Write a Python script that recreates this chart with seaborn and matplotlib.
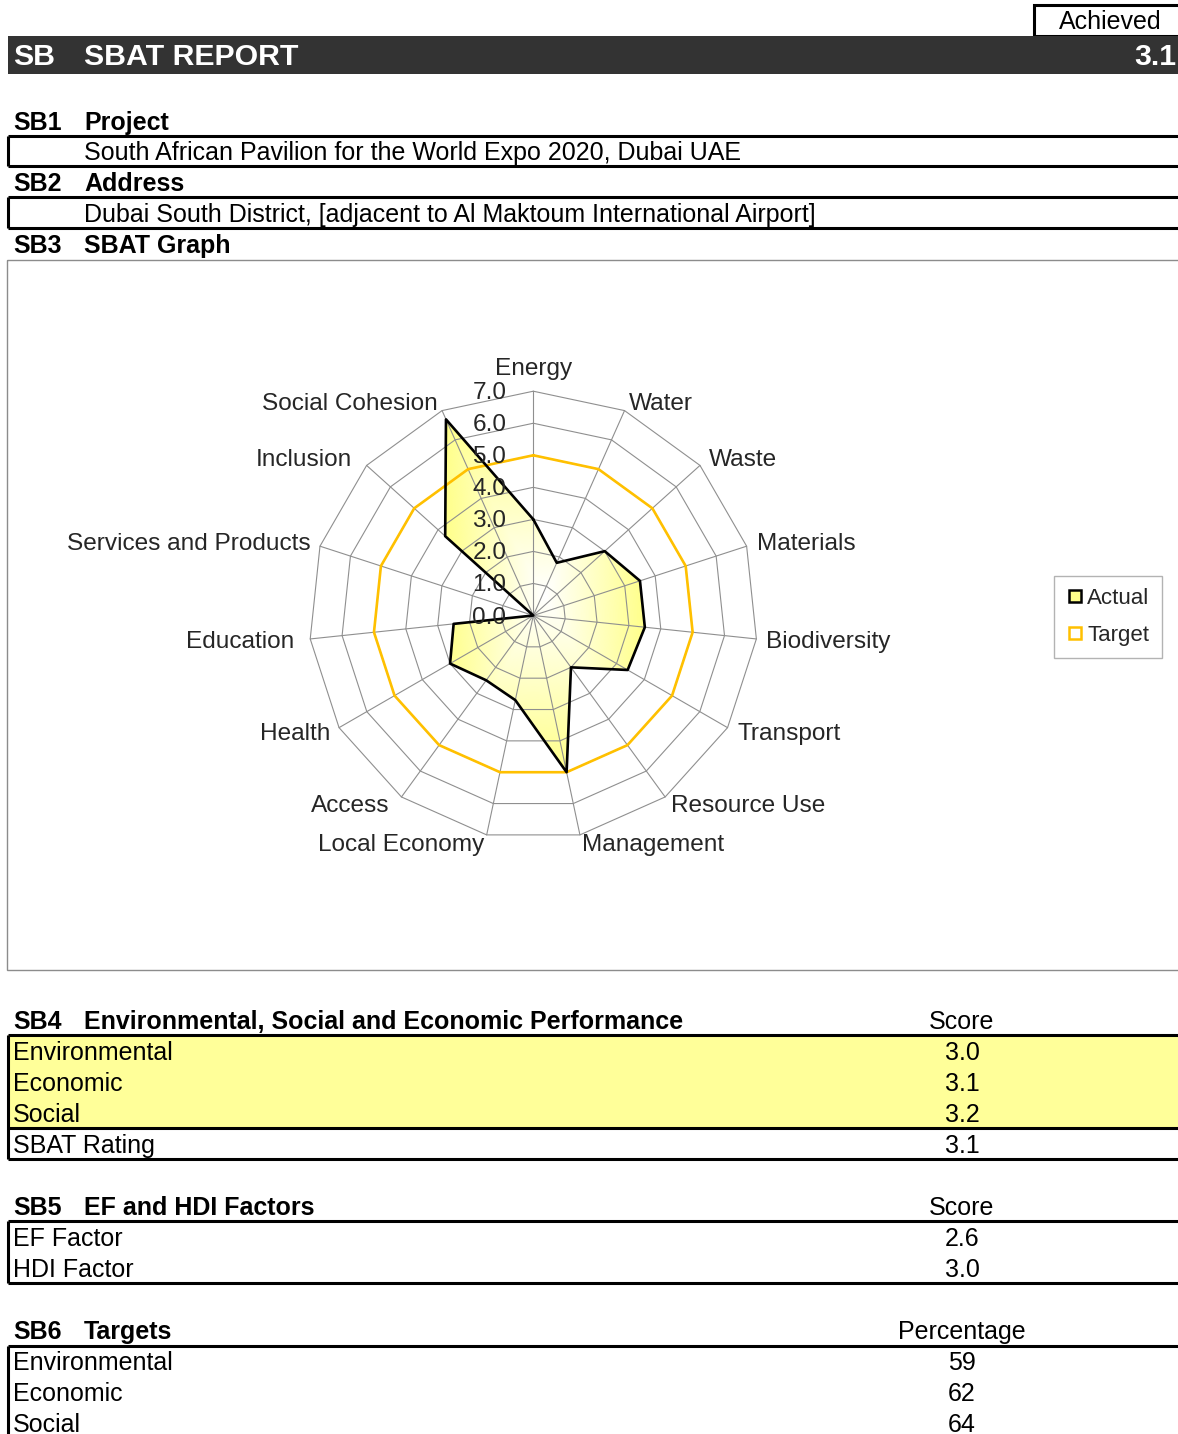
import numpy as np
import matplotlib
matplotlib.use("Agg")
import matplotlib.pyplot as plt
from matplotlib.patches import Rectangle
from matplotlib.lines import Line2D
from matplotlib.colors import LinearSegmentedColormap
import seaborn as sns

# ---- data -------------------------------------------------------------
categories = ["Energy", "Water", "Waste", "Materials", "Biodiversity",
              "Transport", "Resource Use", "Management", "Local Economy",
              "Access", "Health", "Education", "Services and Products",
              "Inclusion", "Social Cohesion"]
actual = [3.0, 1.8, 3.0, 3.5, 3.5, 3.4, 2.0, 5.0, 2.7, 2.5, 3.0, 2.5, 0.0, 3.7, 6.7]
target = [5.0, 5.0, 5.0, 5.0, 5.0, 5.0, 5.0, 5.0, 5.0, 5.0, 5.0, 5.0, 5.0, 5.0, 5.0]
r_ticks = [0, 1, 2, 3, 4, 5, 6, 7]

achieved_score = 3.1
project_name = "South African Pavilion for the World Expo 2020, Dubai UAE"
project_address = "Dubai South District, [adjacent to Al Maktoum International Airport]"

perf_labels = ["Environmental", "Economic", "Social"]
perf_scores = [3.0, 3.1, 3.2]
sbat_rating = 3.1

factor_labels = ["EF Factor", "HDI Factor"]
factor_scores = [2.6, 3.0]

target_labels = ["Environmental", "Economic", "Social"]
target_pct = [59, 62, 64]

# ---- style ------------------------------------------------------------
sns.set_theme(style="white")
plt.rcParams["font.family"] = ["Liberation Sans", "DejaVu Sans"]

W, H = 1178, 1434
fig = plt.figure(figsize=(W / 100, H / 100), dpi=100)
fig.patch.set_facecolor("white")

BODY = 18
HEAD = 18
CHART = 17.6
TITLE = 21.8
LW = 2.2
YELLOW = "#FFFF99"
GOLD = "#FFC000"
FILL_EDGE = "#FFFF8A"

# page canvas in pixel units (y downwards)
bg = fig.add_axes([0, 0, 1, 1])
bg.set_xlim(0, W)
bg.set_ylim(H, 0)
bg.axis("off")


def hline(y, x0=8, x1=W + 5, lw=LW, color="black"):
    bg.plot([x0, x1], [y, y], color=color, lw=lw, solid_capstyle="butt")


def vline(x, y0, y1, lw=LW, color="black"):
    bg.plot([x, x], [y0, y1], color=color, lw=lw, solid_capstyle="butt")


def txt(x, y, s, size=BODY, weight="normal", ha="left", color="black"):
    bg.text(x, y + 2, s, fontsize=size, fontweight=weight, ha=ha, va="center",
            color=color)


def heading(y, code, name, right=None):
    txt(13, y, code, size=HEAD, weight="bold")
    txt(84, y, name, size=HEAD, weight="bold")
    if right is not None:
        txt(962, y, right, ha="center")


# header
bg.add_patch(Rectangle((1034, 5), 160, 31, facecolor="white",
                       edgecolor="black", lw=LW))
txt(1110, 20, "Achieved", ha="center")
bg.add_patch(Rectangle((8, 36), W, 38, facecolor="#333333", edgecolor="none"))
txt(13, 55, "SB", size=TITLE, weight="bold", color="white")
txt(84, 55, "SBAT REPORT", size=TITLE, weight="bold", color="white")
txt(1176, 55, f"{achieved_score:.1f}", size=TITLE, weight="bold",
    color="white", ha="right")

# SB1 / SB2
heading(121, "SB1", "Project")
hline(136); hline(166); vline(8, 136, 166)
txt(84, 151, project_name)
heading(182, "SB2", "Address")
hline(197); hline(228); vline(8, 197, 228)
txt(84, 213, project_address)
heading(244, "SB3", "SBAT Graph")
bg.add_patch(Rectangle((6.5, 259.5), W, 710, facecolor="none",
                       edgecolor="#8c8c8c", lw=1.0))

# SB4
heading(1020, "SB4", "Environmental, Social and Economic Performance", "Score")
bg.add_patch(Rectangle((8, 1035), W, 93, facecolor=YELLOW, edgecolor="none"))
hline(1035); hline(1128); hline(1159); vline(8, 1035, 1159)
for i, (lab, val) in enumerate(zip(perf_labels, perf_scores)):
    y = 1051 + 31 * i
    txt(13, y, lab)
    txt(962, y, f"{val:.1f}", ha="center")
txt(13, 1144, "SBAT Rating")
txt(962, 1144, f"{sbat_rating:.1f}", ha="center")

# SB5
heading(1206, "SB5", "EF and HDI Factors", "Score")
hline(1221); hline(1283); vline(8, 1221, 1283)
for i, (lab, val) in enumerate(zip(factor_labels, factor_scores)):
    y = 1237 + 31 * i
    txt(13, y, lab)
    txt(962, y, f"{val:.1f}", ha="center")

# SB6
heading(1330, "SB6", "Targets", "Percentage")
hline(1346); vline(8, 1346, H + 5)
for i, (lab, val) in enumerate(zip(target_labels, target_pct)):
    y = 1361 + 31 * i
    txt(13, y, lab)
    txt(962, y, f"{val:d}", ha="center")

# ---- radar chart ------------------------------------------------------
cx_px, cy_px, rad_px = 533.3, 615.5, 224.3
ax = fig.add_axes([(cx_px - rad_px) / W, (H - cy_px - rad_px) / H,
                   2 * rad_px / W, 2 * rad_px / H], projection="polar")
ax.set_theta_zero_location("N")
ax.set_theta_direction(-1)
ax.set_ylim(0, max(r_ticks))
ax.grid(False)
ax.spines["polar"].set_visible(False)
ax.set_xticks([])
ax.set_yticks([])
ax.patch.set_alpha(0)

n = len(categories)
theta = np.linspace(0, 2 * np.pi, n, endpoint=False)
theta_c = np.append(theta, theta[0] + 2 * np.pi)
act_c = np.append(actual, actual[0])
tgt_c = np.append(target, target[0])

# polygonal grid
grid_kw = dict(color="#8f8f8f", lw=0.8, zorder=2, clip_on=False)
for r in r_ticks[1:]:
    ax.plot(theta_c, [r] * (n + 1), **grid_kw)
for t in theta:
    ax.plot([t, t], [0, max(r_ticks)], **grid_kw)

# gradient fill of the actual polygon (white centre -> yellow edges)
poly = ax.fill(theta_c, act_c, facecolor="none", edgecolor="none", zorder=1)[0]
xs = act_c * np.sin(theta_c)
ys = act_c * np.cos(theta_c)
gx, gy = (xs.max() + xs.min()) / 2, (ys.max() + ys.min()) / 2
hw, hh = (xs.max() - xs.min()) / 2, (ys.max() - ys.min()) / 2
th_e = np.linspace(0, 2 * np.pi, 721)
r_e = np.linspace(0, max(r_ticks), 141)
TH, R = np.meshgrid(th_e, r_e)
thc = (th_e[:-1] + th_e[1:]) / 2
rc = (r_e[:-1] + r_e[1:]) / 2
THc, Rc = np.meshgrid(thc, rc)
Xc, Yc = Rc * np.sin(THc), Rc * np.cos(THc)
shade = np.clip(np.maximum(np.abs(Xc - gx) / hw, np.abs(Yc - gy) / hh), 0, 1)
cmap = LinearSegmentedColormap.from_list("wy", ["#FFFFFF", FILL_EDGE])
mesh = ax.pcolormesh(TH, R, shade, cmap=cmap, vmin=0, vmax=1,
                     shading="flat", zorder=1, rasterized=True)
mesh.set_clip_path(poly)

sns.lineplot(x=theta_c, y=tgt_c, sort=False, estimator=None, color=GOLD,
             lw=1.9, ax=ax, zorder=3)
sns.lineplot(x=theta_c, y=act_c, sort=False, estimator=None, color="black",
             lw=1.9, ax=ax, zorder=4)
for line in ax.get_lines():
    line.set_clip_on(False)
ax.set_xlabel("")
ax.set_ylabel("")
ax.set_ylim(0, max(r_ticks))

# radial tick labels along the first spoke
for v in r_ticks:
    ax.annotate(f"{v:.1f}", xy=(0, v), xytext=(-27, -2),
                textcoords="offset pixels", ha="right", va="center",
                fontsize=CHART, zorder=6, annotation_clip=False)

# category labels around the outer ring
label_offsets = [(0, 22), (4, 7), (9, 5), (10, 2), (10, -3), (10, -6),
                 (6, -9), (2, -10), (-2, -10), (-12, -9), (-9, -6), (-16, -3),
                 (-9, 2), (-15, 5), (-4, 7)]
for t, lab, (dx, dy) in zip(theta, categories, label_offsets):
    s = np.sin(t)
    ha = "center" if abs(s) < 1e-6 else ("left" if s > 0 else "right")
    ax.annotate(lab, xy=(t, max(r_ticks)), xytext=(dx, dy),
                textcoords="offset pixels", ha=ha, va="center",
                fontsize=CHART, annotation_clip=False)

# legend
handles = [Line2D([], [], linestyle="none", marker="s", markersize=8,
                  markerfacecolor=FILL_EDGE, markeredgecolor="black",
                  markeredgewidth=1.8),
           Line2D([], [], linestyle="none", marker="s", markersize=8,
                  markerfacecolor="white", markeredgecolor=GOLD,
                  markeredgewidth=1.8)]
leg = fig.legend(handles, ["Actual", "Target"], loc="upper left",
                 bbox_to_anchor=(1054 / W, 1 - 576 / H), fontsize=16,
                 frameon=True, fancybox=False, edgecolor="#a0a0a0",
                 handlelength=0.8, handletextpad=0.15,
                 labelspacing=0.72, borderpad=0.55, borderaxespad=0)
leg.get_frame().set_linewidth(1.0)

fig.savefig("out.png", dpi=100, facecolor="white")
